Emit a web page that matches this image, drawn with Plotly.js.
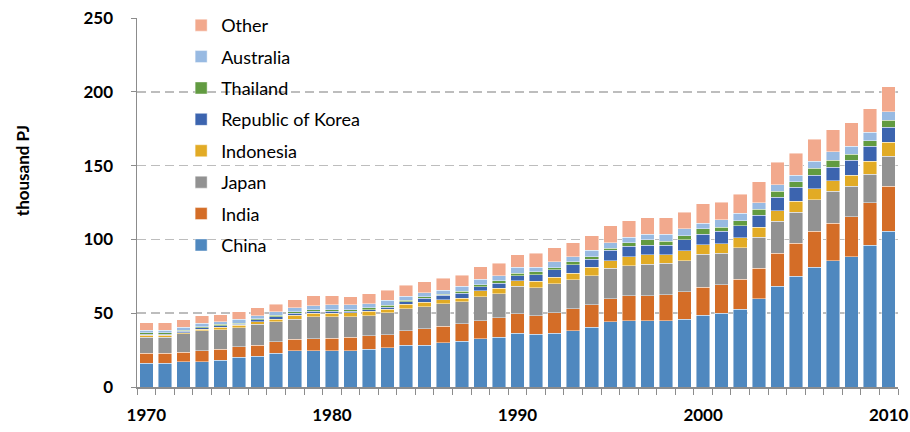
<!DOCTYPE html>
<html>
<head>
<meta charset="utf-8">
<script src="https://cdn.plot.ly/plotly-3.0.1.min.js"></script>
<style>
html,body{margin:0;padding:0;background:#fff;}
#chart{width:910px;height:432px;}
</style>
</head>
<body>
<div id="chart"></div>
<script>
const years = [1970,1971,1972,1973,1974,1975,1976,1977,1978,1979,1980,1981,1982,1983,1984,1985,1986,1987,1988,1989,1990,1991,1992,1993,1994,1995,1996,1997,1998,1999,2000,2001,2002,2003,2004,2005,2006,2007,2008,2009,2010];

const china = [16.1,16.1,17.2,17.2,18.1,20.1,21.0,22.8,24.6,24.6,24.6,24.4,25.6,26.5,28.3,28.3,30.1,31.0,32.8,33.7,36.4,35.7,36.4,38.2,40.5,44.1,45.0,45.0,45.0,45.9,48.6,50.0,52.7,59.9,68.1,74.9,81.2,85.7,88.4,95.9,105.4];
const india = [6.7,6.7,6.5,7.4,7.5,7.2,7.3,7.7,7.8,8.2,8.4,9.3,9.0,9.0,9.9,11.3,11.1,11.7,12.2,13.1,13.1,12.7,14.0,14.9,15.3,15.8,16.7,16.7,17.6,18.5,19.0,19.2,20.3,20.4,22.6,22.6,24.2,25.3,27.1,29.1,30.5];
const japan = [10.9,10.9,12.3,13.4,13.1,12.9,14.2,13.6,13.5,14.9,14.7,14.0,13.8,14.9,14.9,14.9,15.1,15.0,16.3,16.3,18.6,19.0,19.7,19.5,19.7,20.4,20.4,21.3,21.3,21.3,22.2,21.5,21.3,21.3,21.5,20.8,21.5,21.5,20.4,19.3,20.3];
const indonesia = [1.2,1.2,0.9,1.1,1.8,1.6,1.8,1.8,2.7,2.3,2.2,2.5,2.8,2.2,3.0,2.9,2.8,2.6,3.8,3.9,4.0,4.3,4.3,4.5,5.7,5.4,6.3,6.6,5.7,6.6,6.5,6.5,6.8,6.7,7.2,7.7,7.4,7.3,7.7,8.6,9.5];
const korea = [0.8,0.9,0.9,0.9,1.1,0.8,1.2,1.6,1.4,1.4,1.4,1.2,1.3,1.6,1.6,2.7,2.9,3.3,2.8,3.3,3.2,4.5,5.0,5.7,5.4,6.8,6.8,6.5,6.5,7.4,7.3,8.2,8.1,8.2,9.3,9.5,9.1,9.2,10.0,10.1,10.2];
const thailand = [0.9,1.0,0.8,0.9,0.9,0.7,0.8,1.2,0.9,0.8,1.1,0.9,1.2,1.2,1.1,0.9,1.0,1.3,1.4,1.6,1.8,2.0,1.5,2.0,1.8,1.6,2.7,3.6,2.5,2.9,3.6,2.9,3.6,4.0,3.8,3.4,4.7,4.5,4.0,3.7,4.8];
const australia = [1.8,1.8,1.9,2.3,1.8,2.7,1.9,2.3,2.7,3.0,3.2,3.4,2.7,3.3,2.7,2.7,2.5,3.2,3.6,3.6,4.1,3.0,4.1,3.6,4.1,3.8,3.7,3.9,5.0,4.6,3.8,5.0,5.0,4.5,4.5,4.5,4.8,5.9,5.4,5.8,5.7];
const other = [5.2,5.0,5.0,5.0,4.8,5.0,5.4,4.9,5.4,6.5,6.3,5.6,6.8,7.0,7.5,7.6,8.2,7.7,8.6,8.4,8.4,9.5,9.3,9.5,9.9,11.3,11.2,11.1,11.1,11.3,13.2,12.0,12.9,14.1,15.2,15.1,14.9,15.0,15.9,15.9,16.9];

const seriesNames = ["China","India","Japan","Indonesia","Republic of Korea","Thailand","Australia","Other"];
const seriesValues = [china, india, japan, indonesia, korea, thailand, australia, other];
const seriesColors = ["#4F88BF","#D46D27","#929292","#E2AB25","#3C64AF","#629B41","#98BAE2","#F2A98D"];

const xTickVals = [1970,1980,1990,2000,2010];
const yTickVals = [0,50,100,150,200,250];

const traces = seriesNames.map((name, i) => ({
  type: "bar",
  name: name,
  x: years,
  y: seriesValues[i],
  legendgroup: "g" + i,
  legendrank: 100 - i,
  marker: {color: seriesColors[i], line: {color: "rgba(255,255,255,0.55)", width: 0.8}},
  hoverinfo: "x+y+name"
}));

const tickFont = {family: "Lato, 'Open Sans', sans-serif", size: 17, color: "#000", weight: 700};

const layout = {
  width: 910, height: 432,
  margin: {l: 137, r: 12, t: 0, b: 45, pad: 0},
  paper_bgcolor: "#fff", plot_bgcolor: "#fff",
  barmode: "stack",
  bargap: 0.27,
  showlegend: true,
  legend: {
    x: 0.058, xanchor: "left", y: 0.982, yanchor: "top",
    traceorder: "grouped",
    tracegroupgap: 5,
    font: {family: "Lato, 'Open Sans', sans-serif", size: 18, color: "#000"},
    bgcolor: "rgba(0,0,0,0)",
    itemwidth: 30
  },
  xaxis: {
    type: "linear",
    range: [1969.5, 2010.5],
    tickmode: "array",
    tickvals: xTickVals,
    ticktext: xTickVals.map(String),
    ticks: "",
    ticklabelstandoff: 12,
    tickfont: tickFont,
    showgrid: false,
    zeroline: false,
    showline: true,
    linecolor: "#8C8C8C",
    linewidth: 1.5,
    minor: {tickmode: "linear", tick0: 1969.5, dtick: 1, ticks: "outside", ticklen: 6, tickcolor: "#8C8C8C", tickwidth: 1, showgrid: false}
  },
  yaxis: {
    domain: [0, 369 / 387],
    range: [0, 250],
    tickmode: "array",
    tickvals: yTickVals,
    ticks: "outside",
    ticklen: 5,
    tickcolor: "#8C8C8C",
    ticklabelstandoff: 14,
    tickfont: tickFont,
    showgrid: true,
    gridcolor: "#BDBDBD",
    gridwidth: 1.5,
    griddash: "9px,5px",
    zeroline: false,
    showline: true,
    linecolor: "#8C8C8C",
    linewidth: 1.5
  },
  annotations: [{
    text: "thousand PJ",
    xref: "paper", yref: "paper",
    x: -0.151, y: 0.558,
    xanchor: "center", yanchor: "middle",
    textangle: -90,
    showarrow: false,
    font: {family: "Lato, 'Open Sans', sans-serif", size: 17, color: "#000", weight: 700}
  }]
};

Plotly.newPlot("chart", traces, layout, {displayModeBar: false, staticPlot: true});
</script>
</body>
</html>
